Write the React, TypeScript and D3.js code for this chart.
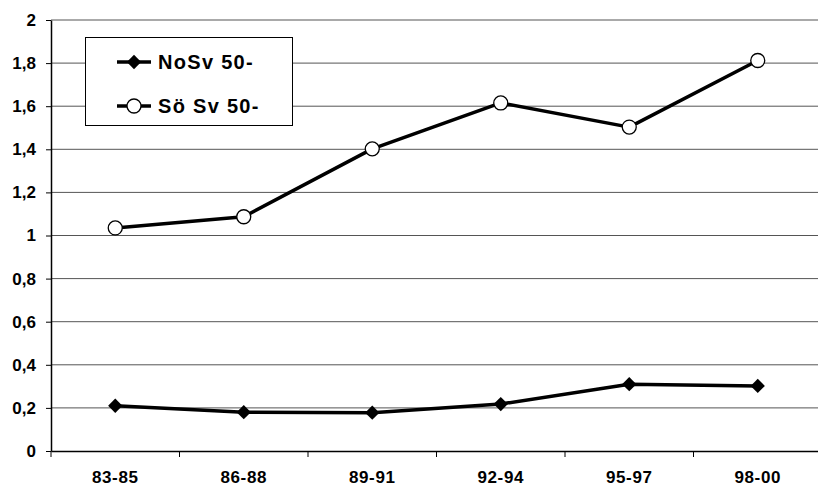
import React, { useEffect, useRef } from 'react';
import * as d3 from 'd3';

const categories = ['83-85', '86-88', '89-91', '92-94', '95-97', '98-00'];
const noSv = [0.21, 0.18, 0.178, 0.218, 0.31, 0.302];
const soSv = [1.035, 1.087, 1.402, 1.615, 1.503, 1.812];
const yTicks = [0, 0.2, 0.4, 0.6, 0.8, 1, 1.2, 1.4, 1.6, 1.8, 2];
const seriesNames = ['NoSv 50-', 'Sö Sv 50-'];

const width = 818;
const height = 487;

const App = () => {
  const svgRef = useRef<SVGSVGElement>(null);

  useEffect(() => {
    const svg = d3.select(svgRef.current);
    svg.selectAll('*').remove();

    const margin = { top: 20, right: 0, bottom: 36, left: 51 };
    const font = 'Liberation Sans, Arial, sans-serif';

    const x = d3.scaleBand()
      .domain(categories)
      .range([margin.left, 822]);

    const y = d3.scaleLinear()
      .domain([0, 2])
      .range([height - margin.bottom, margin.top]);

    // grid lines
    svg.selectAll('.grid')
      .data(yTicks.filter(d => d > 0))
      .enter().append('line')
      .attr('x1', margin.left)
      .attr('x2', width)
      .attr('y1', d => y(d))
      .attr('y2', d => y(d))
      .attr('stroke', '#555')
      .attr('stroke-width', 1);

    // y axis
    const yAxis = svg.append('g')
      .attr('transform', `translate(${margin.left},0)`)
      .call(d3.axisLeft(y).tickValues(yTicks).tickSize(5).tickSizeOuter(0)
        .tickFormat(d => String(d).replace('.', ',')));
    yAxis.select('.domain').attr('stroke', '#000').attr('stroke-width', 1.5);
    yAxis.selectAll('line').attr('stroke', '#000');
    yAxis.selectAll('text')
      .attr('x', -15)
      .style('font-family', font)
      .style('font-weight', 'bold')
      .style('font-size', '17px')
      .attr('fill', '#000');

    // x axis
    const xAxis = svg.append('g')
      .attr('transform', `translate(0,${y(0)})`)
      .call(d3.axisBottom(x).tickSize(0).tickSizeOuter(0));
    xAxis.select('.domain').attr('stroke', '#000').attr('stroke-width', 1.5);
    xAxis.selectAll('text')
      .attr('y', 32)
      .attr('dy', 0)
      .style('font-family', font)
      .style('font-weight', 'bold')
      .style('font-size', '17px')
      .style('letter-spacing', '0.6px')
      .attr('fill', '#000');

    // category separator ticks
    svg.append('g').selectAll('line')
      .data(categories)
      .enter().append('line')
      .attr('x1', d => x(d)!)
      .attr('x2', d => x(d)!)
      .attr('y1', y(0))
      .attr('y2', y(0) + 6)
      .attr('stroke', '#000');

    const cx = (d: string) => x(d)! + x.bandwidth() / 2;

    const line = d3.line<number>()
      .x((_, i) => cx(categories[i]))
      .y(d => y(d));

    const diamond = d3.symbol().type(d3.symbolDiamond2).size(130);

    // NoSv
    svg.append('path')
      .datum(noSv)
      .attr('fill', 'none')
      .attr('stroke', '#000')
      .attr('stroke-width', 3.5)
      .attr('stroke-linejoin', 'round')
      .attr('d', line);
    svg.append('g').selectAll('path')
      .data(noSv)
      .enter().append('path')
      .attr('d', diamond)
      .attr('transform', (d, i) => `translate(${cx(categories[i])},${y(d)})`)
      .attr('fill', '#000');

    // Sö Sv
    svg.append('path')
      .datum(soSv)
      .attr('fill', 'none')
      .attr('stroke', '#000')
      .attr('stroke-width', 3.5)
      .attr('stroke-linejoin', 'round')
      .attr('d', line);
    svg.append('g').selectAll('circle')
      .data(soSv)
      .enter().append('circle')
      .attr('cx', (_, i) => cx(categories[i]))
      .attr('cy', d => y(d))
      .attr('r', 7)
      .attr('fill', '#fff')
      .attr('stroke', '#000')
      .attr('stroke-width', 1.3);

    // legend
    const legend = svg.append('g');
    legend.append('rect')
      .attr('x', 85.5)
      .attr('y', 37.5)
      .attr('width', 207)
      .attr('height', 88)
      .attr('fill', '#fff')
      .attr('stroke', '#000')
      .attr('stroke-width', 1);

    seriesNames.forEach((name, i) => {
      const ly = 62 + i * 44;
      legend.append('line')
        .attr('x1', 117).attr('x2', 151)
        .attr('y1', ly).attr('y2', ly)
        .attr('stroke', '#000')
        .attr('stroke-width', 3.5);
      if (i === 0) {
        legend.append('path')
          .attr('d', diamond)
          .attr('transform', `translate(134,${ly})`)
          .attr('fill', '#000');
      } else {
        legend.append('circle')
          .attr('cx', 134).attr('cy', ly).attr('r', 7)
          .attr('fill', '#fff').attr('stroke', '#000').attr('stroke-width', 1.3);
      }
      legend.append('text')
        .attr('x', 158)
        .attr('y', ly + 7)
        .style('font-family', font)
        .style('font-weight', 'bold')
        .style('font-size', '20px')
        .style('letter-spacing', '1.3px')
        .text(name);
    });
  }, []);

  return (
    <svg ref={svgRef} width={width} height={height}
      style={{ position: 'absolute', left: 0, top: 0, background: '#fff' }} />
  );
};

export default App;
